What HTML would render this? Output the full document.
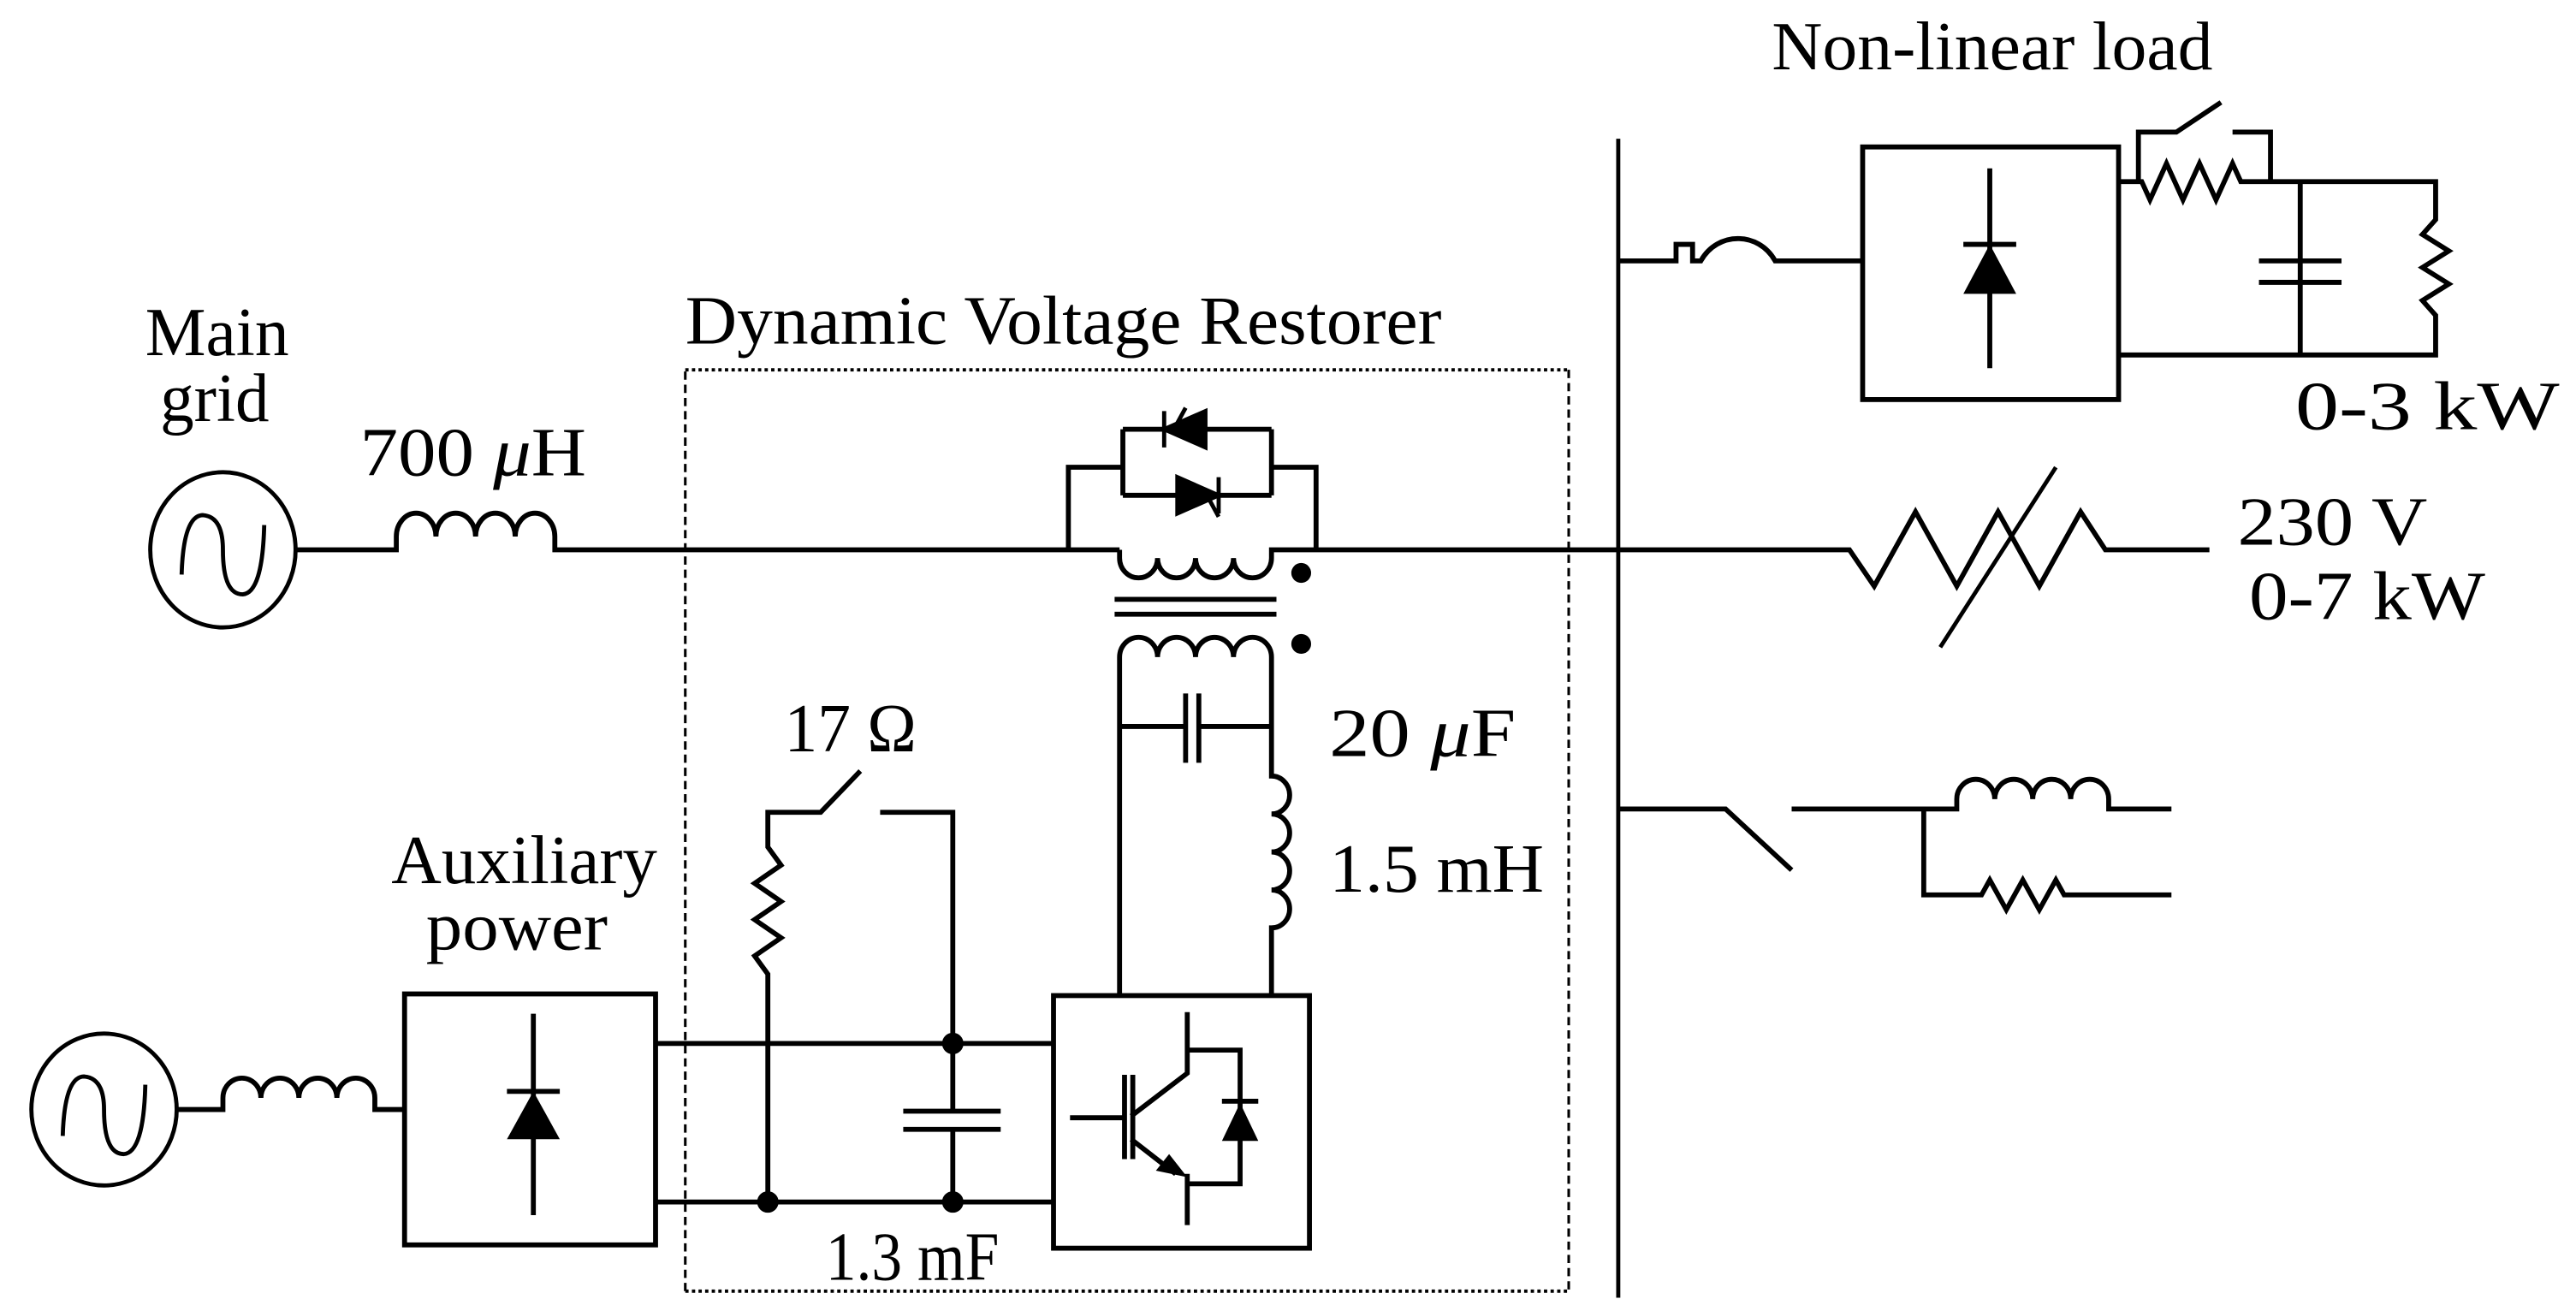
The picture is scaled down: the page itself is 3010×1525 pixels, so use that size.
<!DOCTYPE html>
<html><head><style>
html,body{margin:0;padding:0;background:#fff;}
svg{display:block;}
text{font-family:"Liberation Serif",serif;fill:#000;}
</style></head><body>
<svg width="3010" height="1525" viewBox="0 0 1560 790.4" preserveAspectRatio="none" xmlns="http://www.w3.org/2000/svg">
<g fill="none" stroke="#000" stroke-width="3" stroke-linejoin="miter">
<!-- main grid source -->
<ellipse cx="135" cy="333" rx="44" ry="47" stroke-width="2.5"/>
<path d="M110,348 Q111,312 123,312 Q135,313 135,333 Q135,360 147,360 Q159,359 160,318" stroke-width="2.5"/>
<path d="M180,333 H240 V325 a11,13 0 0 1 24,0 a11,13 0 0 1 24,0 a11,13 0 0 1 24,0 a11,13 0 0 1 24,0 V333 H678"/>
<!-- DVR box -->
<path d="M415,782 V224" stroke-width="1.6" stroke-dasharray="5,3"/>
<path d="M415,224 H950" stroke-width="2" stroke-dasharray="2,2"/>
<path d="M950,224 V782" stroke-width="1.6" stroke-dasharray="5,3"/>
<path d="M415,782 H950" stroke-width="2" stroke-dasharray="2,2"/>
<!-- thyristors -->
<path d="M647,333 V283 H680 M680,260 V300 M680,260 H770 M680,300 H770 M770,260 V300 M770,283 H797 V333"/>
<!-- primary coil -->
<path d="M678,333 V338 a11.5,12 0 0 0 23,0 a11.5,12 0 0 0 23,0 a11.5,12 0 0 0 23,0 a11.5,12 0 0 0 23,0 V333 H980"/>
<path d="M675,363 H773 M675,372 H773"/>
<!-- secondary coil -->
<path d="M678,603 V398 a11.5,12 0 0 1 23,0 a11.5,12 0 0 1 23,0 a11.5,12 0 0 1 23,0 a11.5,12 0 0 1 23,0 V470 a11,11.5 0 0 1 0,23 a11,11.5 0 0 1 0,23 a11,11.5 0 0 1 0,23 a11,11.5 0 0 1 0,23 V603"/>
<path d="M678,440 H718 M726,440 H770 M718,420 V462 M726,420 V462"/>
<!-- inverter -->
<rect x="638" y="603" width="155" height="153"/>
<path d="M719,613 V650 L685,676 M681,651 V702 M686,651 V702 M648,677 H681 M685,690 L712,711 M719,711 V742 M719,636 H751 V717 H719 M740,667 H762"/>
<!-- DC link -->
<path d="M397,632 H638 M397,728 H638"/>
<path d="M577,632 V673 M577,684 V728 M547,673 H606 M547,684 H606"/>
<path d="M465,728 V590 l-8,-11 l16,-11 l-16,-11 l16,-11 l-16,-11 l16,-11 l-8,-11 V492 H497 L521,467 M533,492 H577 V632"/>
<!-- aux box -->
<rect x="245" y="602" width="152" height="152"/>
<path d="M323,614 V736 M307,661 H339"/>
<ellipse cx="63" cy="672" rx="44" ry="46" stroke-width="2.5"/>
<path d="M38,688 Q39,652 51,652 Q63,653 63,672 Q63,699 75,699 Q87,698 88,657" stroke-width="2.5"/>
<path d="M107,672 H135 V665 a11.5,12 0 0 1 23,0 a11.5,12 0 0 1 23,0 a11.5,12 0 0 1 23,0 a11.5,12 0 0 1 23,0 V672 H245"/>
<!-- bus -->
<path d="M980,84 V786" stroke-width="2.5"/>
<!-- nonlinear load -->
<path d="M980,158 H1015 V148 H1025 V158 H1030 C1040,140 1065,140 1075,158 H1128"/>
<rect x="1128" y="89" width="155" height="153"/>
<path d="M1205,102 V223 M1189,148 H1221"/>
<path d="M1283,110 H1297 l5,11 l10,-22 l10,22 l10,-22 l10,22 l10,-22 l5,11 H1475 V133 l-8,9 l16,10 l-16,10 l16,10 l-16,10 l8,9 V215 H1283"/>
<path d="M1295,110 V80 H1318 L1345,62 M1352,80 H1375 V110"/>
<path d="M1393,110 V215 M1368,158 H1418 M1368,171 H1418"/>
<!-- variable resistor -->
<path d="M980,333 H1120 L1135,355 L1160,310 L1185,355 L1210,310 L1235,355 L1260,310 L1275,333 H1338"/>
<path d="M1175,392 L1245,283" stroke-width="2.5"/>
<!-- bottom branch -->
<path d="M980,490 H1045 L1085,527 M1085,490 H1185 V484 a11.5,12 0 0 1 23,0 a11.5,12 0 0 1 23,0 a11.5,12 0 0 1 23,0 a11.5,12 0 0 1 23,0 V490 H1315"/>
<path d="M1165,490 V542 H1200 l5,-9 l10,18 l10,-18 l10,18 l10,-18 l5,9 H1315"/>
</g>
<g fill="#000">
<circle cx="788" cy="347" r="6"/>
<circle cx="788" cy="390" r="6"/>
<circle cx="577" cy="632" r="6.5"/>
<circle cx="577" cy="728" r="6.5"/>
<circle cx="465" cy="728" r="6.5"/>
<polygon points="740,691 762,691 751,668"/>
<polygon points="307,690 339,690 323,661"/>
<polygon points="1189,178 1221,178 1205,148"/>
<polygon points="719,713 700,709 708,699"/>
</g>
<!-- thyristor triangles -->
<g fill="#000" stroke="#000" stroke-width="2.5">
<polygon points="705,260 730,249 730,271"/>
<path d="M705,249 V271 M712,258 L718,247" fill="none"/>
<polygon points="738,300 713,289 713,311"/>
<path d="M738,289 V311 M732,302 L738,313" fill="none"/>
</g>
<g font-size="42" lengthAdjust="spacingAndGlyphs">
<text x="88" y="215" textLength="87" lengthAdjust="spacingAndGlyphs">Main</text>
<text x="97" y="255" textLength="66" lengthAdjust="spacingAndGlyphs">grid</text>
<text x="218" y="288" textLength="137" lengthAdjust="spacingAndGlyphs">700 <tspan font-style="italic">μ</tspan>H</text>
<text x="415" y="208" textLength="458" lengthAdjust="spacingAndGlyphs">Dynamic Voltage Restorer</text>
<text x="475" y="455" textLength="80" lengthAdjust="spacingAndGlyphs">17 Ω</text>
<text x="805" y="458" textLength="113" lengthAdjust="spacingAndGlyphs">20 <tspan font-style="italic">μ</tspan>F</text>
<text x="805" y="540" textLength="130" lengthAdjust="spacingAndGlyphs">1.5 mH</text>
<text x="237" y="535" textLength="161" lengthAdjust="spacingAndGlyphs">Auxiliary</text>
<text x="258" y="575" textLength="110" lengthAdjust="spacingAndGlyphs">power</text>
<text x="500" y="775" textLength="105" lengthAdjust="spacingAndGlyphs">1.3 mF</text>
<text x="1073" y="42" textLength="267" lengthAdjust="spacingAndGlyphs">Non-linear load</text>
<text x="1390" y="260" textLength="160" lengthAdjust="spacingAndGlyphs">0-3 kW</text>
<text x="1355" y="330" textLength="115" lengthAdjust="spacingAndGlyphs">230 V</text>
<text x="1362" y="375" textLength="143" lengthAdjust="spacingAndGlyphs">0-7 kW</text>
</g>
</svg>
</body></html>
